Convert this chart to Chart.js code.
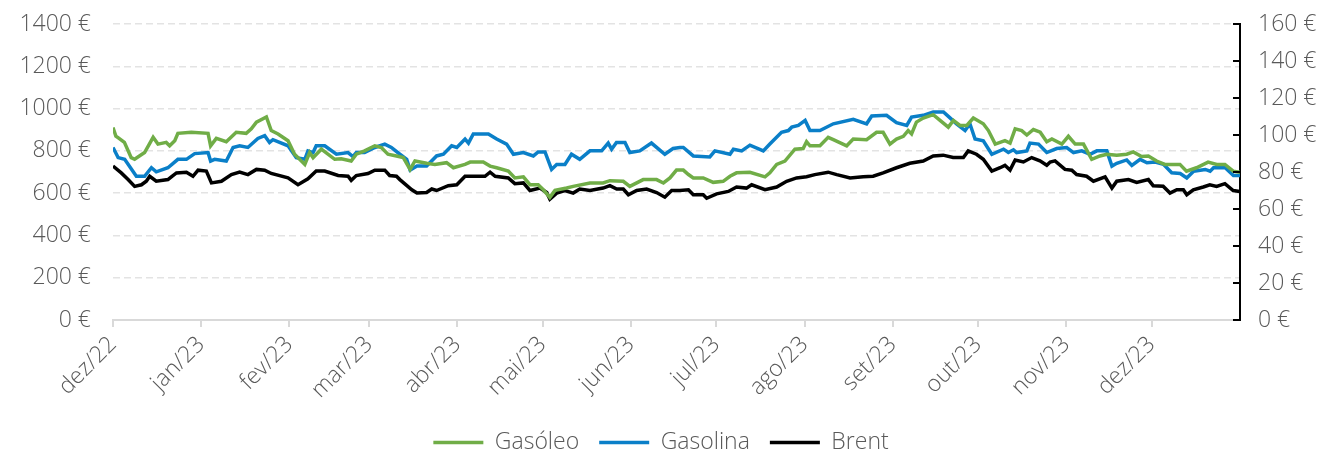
<!DOCTYPE html>
<html>
<head>
<meta charset="utf-8">
<script src="https://cdn.jsdelivr.net/npm/chart.js@4/dist/chart.umd.min.js"></script>
<style>
  html, body { margin: 0; padding: 0; background: #fff; }
  #wrap { width: 1322px; height: 454px; }
</style>
</head>
<body>
<div id="wrap"><canvas id="grafico" width="1322" height="454"></canvas></div>
<script>
// Eixo temporal: dias desde 1/dez/2022
const mesesDias = [0, 31, 62, 90, 121, 151, 182, 212, 243, 274, 304, 335, 365];
const mesesLabels = ["dez/22", "jan/23", "fev/23", "mar/23", "abr/23", "mai/23", "jun/23",
  "jul/23", "ago/23", "set/23", "out/23", "nov/23", "dez/23"];
const diaFinal = 396;

// Gasóleo (€/t, eixo esquerdo)
const gasoleoDias = [0, 1, 2, 4, 6.4, 7.6, 11.1, 14.1, 15.8, 18.7,
  19.9, 21.7, 22.8, 27.5, 33.4, 34.3, 36.3, 39.8, 43.3, 46.8,
  48.6, 50.4, 53.9, 55.6, 58, 61.5, 63.8, 67.4, 69.1, 70.3,
  73.2, 77.9, 80.2, 83.7, 85.5, 88.4, 92, 94.3, 96.6, 99.6,
  102, 104.4, 106.1, 110.2, 113.1, 117.2, 119.6, 123.7, 125.5, 130.1,
  132.5, 134.8, 138.9, 141.2, 144.2, 146.5, 149.4, 151.2, 153.5, 155.3,
  159.4, 161.7, 167.6, 172.2, 174.6, 179.3, 181.6, 186.3, 191, 193.4,
  195.7, 198, 200.4, 202.2, 203.9, 207.4, 210.9, 214.4, 216.8, 219.1,
  223.8, 229.1, 230.8, 233.2, 236.1, 239.6, 242.5, 243.7, 244.9, 248.4,
  251.3, 253.1, 257.8, 260.1, 264.8, 268.3, 270.6, 273, 275.3, 277.7,
  279.4, 280.6, 282.3, 284.7, 288.2, 290.6, 293.5, 295.3, 297.6, 300,
  302.3, 305.8, 307.6, 310, 313.4, 315.2, 317, 319.3, 321.1, 323.4,
  325.8, 328.1, 329.9, 333.4, 335.7, 338.1, 341, 343.9, 346.8, 349.2,
  352.7, 356.2, 358.5, 361.4, 363.8, 366.7, 369.6, 374.9, 377.2, 380.7,
  384.8, 387.8, 390.7, 393.6, 396];
const gasoleoValores = [910, 870, 860, 840, 768, 760, 792, 864, 832, 840,
  824, 848, 883, 888, 883, 824, 859, 843, 888, 883,
  904, 936, 960, 896, 880, 848, 784, 736, 792, 768,
  808, 760, 763, 752, 784, 800, 824, 816, 784, 776,
  768, 712, 752, 741, 736, 744, 720, 736, 747, 747,
  728, 720, 704, 672, 677, 640, 640, 616, 580, 613,
  624, 632, 648, 648, 659, 656, 632, 664, 664, 648,
  672, 709, 709, 688, 672, 672, 651, 656, 680, 696,
  699, 677, 696, 736, 752, 808, 811, 843, 824, 824,
  864, 853, 824, 856, 853, 888, 888, 832, 856, 869,
  896, 880, 936, 955, 971, 944, 912, 944, 920, 920,
  955, 928, 896, 832, 848, 837, 904, 896, 875, 901,
  888, 843, 856, 832, 869, 832, 832, 760, 776, 784,
  779, 784, 795, 773, 776, 752, 736, 736, 704, 720,
  747, 736, 736, 704, 699];

// Gasolina (€/t, eixo esquerdo)
const gasolinaDias = [0, 1.8, 4.1, 8.2, 11.1, 13.5, 15.2, 19.3, 22.8, 25.8,
  28.7, 33.4, 34.3, 35.7, 39.8, 42.2, 44.5, 47.4, 50.9, 53.3,
  55, 56.2, 61.5, 64.4, 67.4, 68.5, 70.3, 71.4, 74.4, 78.5,
  82.6, 84.3, 85.5, 88.4, 92, 95.5, 97.8, 100.8, 103.2, 104.4,
  106.8, 110.2, 113.7, 116.1, 119, 120.8, 123.7, 124.9, 126.6, 131.9,
  134.8, 138.3, 140.7, 144.2, 147.7, 149.4, 151.8, 154.1, 155.9, 158.8,
  161.1, 164, 167.6, 171.7, 174, 175.2, 176.9, 179.9, 181.6, 185.1,
  189.2, 193.9, 196.8, 199.2, 200.4, 203.9, 209.7, 211.5, 216.8, 218,
  220.9, 223.8, 228.5, 230.8, 234.9, 237.3, 238.5, 240.8, 243.2, 244.9,
  248.4, 253.1, 260.1, 264.8, 266.6, 271.8, 275.3, 278.9, 280.6, 284.7,
  288.2, 291.8, 294.1, 296.4, 299.4, 301.1, 302.9, 305.8, 308.8, 312.9,
  314.6, 316.4, 317.5, 321.1, 322.2, 325.2, 328.1, 331.6, 335.1, 337.5,
  340.4, 343.3, 345.7, 349.2, 351, 352.7, 356.2, 358, 360.9, 363.3,
  366.2, 369.1, 372, 375, 377.3, 379.7, 383.8, 385.5, 386.7, 390.8,
  393.7, 396];
const gasolinaValores = [816, 768, 760, 680, 680, 720, 701, 720, 760, 760,
  787, 792, 752, 760, 752, 816, 824, 816, 859, 872,
  840, 853, 824, 768, 760, 800, 792, 824, 824, 784,
  792, 773, 792, 792, 816, 832, 816, 784, 760, 709,
  728, 728, 776, 784, 824, 816, 856, 837, 880, 880,
  856, 832, 784, 792, 776, 795, 795, 712, 736, 736,
  784, 760, 800, 800, 837, 808, 840, 840, 792, 800,
  837, 784, 811, 816, 816, 776, 771, 800, 784, 808,
  800, 827, 800, 832, 888, 896, 912, 920, 944, 896,
  896, 928, 949, 928, 965, 968, 933, 920, 960, 968,
  984, 984, 956, 928, 896, 928, 856, 848, 784, 808,
  792, 805, 792, 800, 837, 832, 792, 811, 816, 792,
  800, 784, 800, 800, 728, 741, 757, 731, 760, 744,
  747, 736, 696, 693, 672, 704, 712, 704, 720, 720,
  683, 683];

// Brent (€/barril, eixo direito)
const brentDias = [0, 2.9, 5.3, 7.6, 10, 11.7, 12.9, 15.2, 19.3, 20.5,
  22.3, 25.8, 28.1, 29.9, 32.8, 34.6, 38.1, 41.6, 44.5, 47.4,
  50.4, 53.3, 55.6, 61.5, 65, 68.5, 71.4, 74.4, 79.1, 82.6,
  83.7, 85.5, 89.6, 92, 95.5, 97.2, 99.6, 100.8, 105, 106.8,
  110.2, 112, 113.7, 117.8, 120.8, 123.7, 130.7, 132.5, 134.3, 138.9,
  141.2, 144.2, 146.5, 150, 152.4, 153.5, 155.9, 158.8, 161.7, 164,
  167.6, 172.2, 174.6, 177, 179.3, 181.1, 184, 187.5, 191, 193.9,
  196.3, 199.2, 202.2, 203.9, 207.4, 208.6, 212.1, 216.2, 219.1, 222.6,
  224.4, 229.1, 233.2, 236.7, 240.2, 243.7, 246.6, 251.3, 254.3, 259,
  263.6, 267.1, 270.6, 275.3, 280, 284.7, 288.2, 291.7, 295.2, 298.8,
  300.5, 303.4, 305.8, 308.8, 311.7, 313.4, 315.2, 317, 319.9, 322.8,
  325.7, 328.1, 329.3, 331, 334.5, 336.9, 338.6, 342.1, 344.5, 348.6,
  351, 352.7, 356.8, 359.7, 363.8, 365.5, 369, 371.4, 373.8, 376.1,
  377.3, 379.6, 383.1, 385.4, 387.8, 390.7, 393.6, 396];
const brentValores = [83.2, 79.5, 75.9, 72.2, 73.1, 75.0, 77.7, 75.0, 75.9, 77.4,
  79.5, 79.9, 77.7, 81.0, 80.5, 74.1, 75.0, 78.6, 79.9, 78.6,
  81.4, 81.0, 79.2, 76.8, 73.1, 76.3, 80.5, 80.5, 78.1, 77.7,
  75.5, 78.1, 79.2, 81.0, 81.0, 78.1, 77.7, 75.9, 70.4, 68.6,
  68.9, 70.8, 70.0, 72.6, 73.1, 77.7, 77.7, 79.9, 77.7, 76.8,
  73.7, 74.1, 70.0, 71.3, 68.9, 65.3, 68.6, 70.0, 68.6, 70.8,
  70.0, 71.3, 72.6, 70.8, 70.8, 67.7, 70.0, 70.8, 68.9, 66.4,
  70.0, 70.0, 70.4, 67.7, 67.7, 65.8, 68.2, 69.5, 71.9, 71.3,
  73.1, 70.4, 71.9, 75.0, 76.8, 77.4, 78.6, 79.9, 78.6, 76.8,
  77.4, 77.7, 79.5, 82.3, 84.7, 85.9, 88.7, 89.1, 87.8, 87.8,
  91.4, 89.6, 86.9, 80.5, 82.3, 83.6, 81.0, 86.5, 85.4, 87.8,
  86.0, 83.6, 85.4, 86.0, 81.4, 81.0, 78.6, 77.7, 75.0, 77.4,
  71.3, 75.0, 75.9, 74.4, 75.9, 72.6, 72.3, 68.6, 70.4, 70.4,
  67.7, 70.4, 71.9, 73.1, 72.2, 73.7, 70.0, 69.5];

function pontos(dias, valores) {
  return dias.map((d, i) => ({ x: d, y: valores[i] }));
}

const cinzaTexto = "#595959";
Chart.defaults.font.family = "'Open Sans', 'DejaVu Sans', sans-serif";
Chart.defaults.font.size = 23;
Chart.defaults.font.weight = "300";
Chart.defaults.color = cinzaTexto;

// marcas do eixo direito viradas para dentro do gráfico
const marcasDireita = {
  id: "marcasDireita",
  afterDraw(chart) {
    const s = chart.scales.y1;
    const ctx = chart.ctx;
    ctx.save();
    ctx.strokeStyle = "#000";
    ctx.lineWidth = 2;
    s.ticks.forEach((t) => {
      const y = Math.round(s.getPixelForValue(t.value));
      ctx.beginPath();
      ctx.moveTo(s.left, y);
      ctx.lineTo(s.left - 7, y);
      ctx.stroke();
    });
    ctx.restore();
  },
};

// desce um pouco a legenda
const legendaAbaixo = {
  id: "legendaAbaixo",
  afterLayout(chart) {
    chart.legend.top += 10;
    chart.legend.bottom += 10;
  },
};

const linha = (label, data, cor, eixo) => ({
  label,
  data,
  borderColor: cor,
  backgroundColor: cor,
  borderWidth: 3.5,
  pointRadius: 0,
  tension: 0,
  yAxisID: eixo,
});

const semPaddingVertical = (scale) => {
  scale.paddingTop = 0;
  scale.paddingBottom = 0;
};

new Chart(document.getElementById("grafico").getContext("2d"), {
  type: "line",
  data: {
    datasets: [
      linha("Gasóleo", pontos(gasoleoDias, gasoleoValores), "#70AD47", "y"),
      linha("Gasolina", pontos(gasolinaDias, gasolinaValores), "#0A7FC8", "y"),
      linha("Brent", pontos(brentDias, brentValores), "#000000", "y1"),
    ],
  },
  options: {
    responsive: false,
    animation: false,
    devicePixelRatio: 1,
    layout: { autoPadding: false, padding: { top: 24, left: 0, right: 0, bottom: 0 } },
    plugins: {
      tooltip: { enabled: false },
      legend: {
        position: "bottom",
        labels: {
          usePointStyle: true,
          pointStyle: "line",
          pointStyleWidth: 50,
          padding: 20,
          color: cinzaTexto,
          font: { size: 23 },
        },
      },
    },
    scales: {
      x: {
        type: "linear",
        min: 0,
        max: diaFinal,
        afterBuildTicks: (scale) => {
          scale.ticks = mesesDias.map((v) => ({ value: v }));
        },
        afterFit: (scale) => {
          scale.height = 81;
          scale.paddingLeft = 0;
          scale.paddingRight = 0;
        },
        ticks: {
          autoSkip: false,
          maxRotation: 45,
          minRotation: 45,
          padding: 4,
          callback: (v) => mesesLabels[mesesDias.indexOf(v)],
        },
        grid: {
          drawOnChartArea: false,
          drawTicks: true,
          tickLength: 7,
          color: "#d9d9d9",
          lineWidth: 2,
        },
        border: { display: true, color: "#d9d9d9", width: 2 },
      },
      y: {
        position: "left",
        min: 0,
        max: 1400,
        afterFit: (scale) => {
          scale.width = 113;
          semPaddingVertical(scale);
        },
        ticks: {
          stepSize: 200,
          padding: 22,
          callback: (v) => v + " €",
        },
        grid: {
          color: "#e3e3e3",
          lineWidth: 1.5,
          drawTicks: false,
        },
        border: { display: false, dash: [7, 4] },
      },
      y1: {
        position: "right",
        min: 0,
        max: 160,
        afterFit: (scale) => {
          scale.width = 82;
          semPaddingVertical(scale);
        },
        ticks: {
          stepSize: 20,
          padding: 18,
          callback: (v) => v + " €",
        },
        grid: { drawOnChartArea: false, drawTicks: false },
        border: { display: true, color: "#000", width: 2 },
      },
    },
  },
  plugins: [marcasDireita, legendaAbaixo],
});
</script>
</body>
</html>
